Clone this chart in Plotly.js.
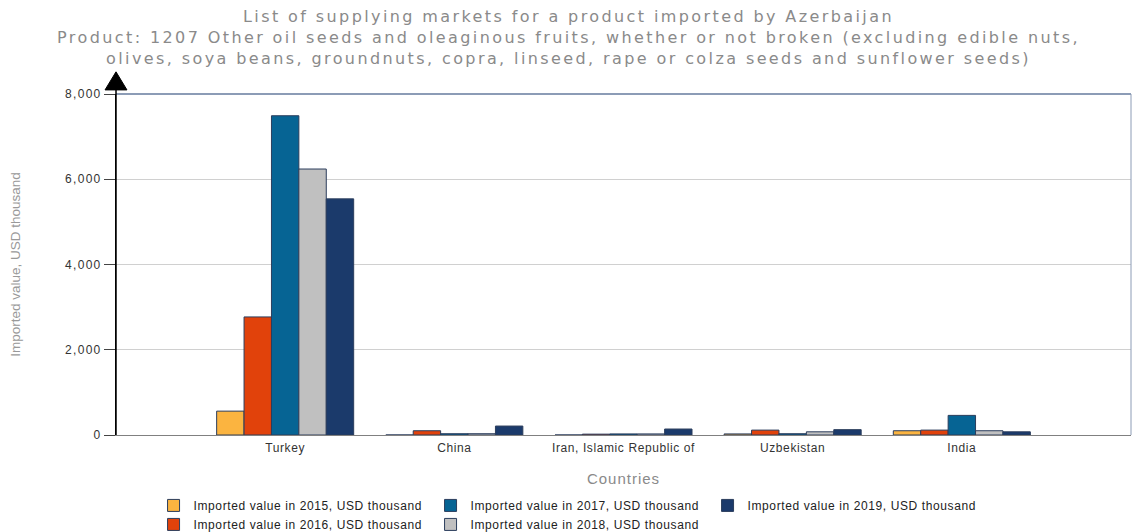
<!DOCTYPE html>
<html>
<head>
<meta charset="utf-8">
<script src="https://cdn.plot.ly/plotly-3.0.1.min.js"></script>
<style>
html,body{margin:0;padding:0;background:#fff;}
#chart{width:1137px;height:532px;}
#chart .gtitle{letter-spacing:2.4px;}
#chart .xtick text{letter-spacing:0.6px;}
#chart .ytick text{letter-spacing:1.3px;}
#chart .legendtext{letter-spacing:0.6px;}
#chart .xtitle{letter-spacing:1px;}
</style>
</head>
<body>
<div id="chart"></div>
<script>
const countries = ["Turkey", "China", "Iran, Islamic Republic of", "Uzbekistan", "India"];
const years = ["2015", "2016", "2017", "2018", "2019"];
const v2015 = [560, 0, 0, 25, 100];
const v2016 = [2770, 100, 20, 115, 115];
const v2017 = [7490, 30, 25, 30, 460];
const v2018 = [6240, 30, 25, 75, 100];
const v2019 = [5540, 210, 140, 125, 75];
const seriesValues = [v2015, v2016, v2017, v2018, v2019];
const colors = ["#fbb440", "#e1420b", "#066494", "#c0c0c0", "#1b3a6b"];
const legendRanks = [1, 4, 2, 5, 3];
const yTicks = [0, 2000, 4000, 6000, 8000];
const yTickText = ["0", "2,000", "4,000", "6,000", "8,000"];

const traces = years.map((y, i) => ({
  type: "bar",
  name: "Imported value in " + y + ", USD thousand",
  x: countries,
  y: seriesValues[i],
  marker: {color: colors[i], line: {color: "#2b3d5c", width: 1}},
  legendrank: legendRanks[i],
  hoverinfo: "x+y+name"
}));

const layout = {
  width: 1137, height: 532,
  margin: {l: 116, r: 6, t: 94, b: 97, autoexpand: false},
  paper_bgcolor: "#fff", plot_bgcolor: "#fff",
  font: {family: "Liberation Sans, Arial, sans-serif", color: "#333"},
  title: {
    text: "List of supplying markets for a product imported by Azerbaijan<br>Product: 1207 Other oil seeds and oleaginous fruits, whether or not broken (excluding edible nuts,<br>olives, soya beans, groundnuts, copra, linseed, rape or colza seeds and sunflower seeds)",
    font: {family: "DejaVu Sans, Verdana, sans-serif", size: 16, color: "#8a8a8a"},
    x: 0.5, xanchor: "center", y: 0.958, yanchor: "top", yref: "container"
  },
  barmode: "group",
  bargap: 0.19,
  bargroupgap: 0,
  xaxis: {
    type: "category",
    range: [-1, 5],
    showgrid: false,
    showline: true, linecolor: "#808080", linewidth: 1,
    ticks: "", tickfont: {size: 12, color: "#333"},
    ticklabelstandoff: 2,
    title: {text: "Countries", font: {size: 15, color: "#8a8a8a"}, standoff: 19},
    fixedrange: true, zeroline: false
  },
  yaxis: {
    range: [0, 8000],
    tickvals: yTicks, ticktext: yTickText,
    showgrid: true, gridcolor: "#d0d0d0", gridwidth: 1,
    showline: true, linecolor: "#000", linewidth: 1,
    ticks: "outside", ticklen: 11, tickcolor: "#444",
    tickfont: {size: 12, color: "#333"},
    title: {text: "Imported value, USD thousand", font: {size: 13.5, color: "#999"}, standoff: 47},
    zeroline: false, fixedrange: true
  },
  showlegend: true,
  legend: {
    orientation: "h",
    x: 0.037, xanchor: "left", xref: "paper",
    y: -0.164, yanchor: "top", yref: "paper",
    entrywidth: 232,
    font: {size: 12, color: "#222"},
    tracegroupgap: 0,
    itemwidth: 30
  },
  shapes: [
    {type: "line", xref: "paper", yref: "paper", x0: 0, x1: 1, y0: 1, y1: 1, line: {color: "#8c9cb6", width: 2}, layer: "above"},
    {type: "line", xref: "paper", yref: "paper", x0: 1, x1: 1, y0: 0, y1: 1, line: {color: "#8c9cb6", width: 1}, layer: "above"},
    {type: "line", xref: "paper", yref: "paper", x0: 0, x1: 0, y0: 0, y1: 1.02, line: {color: "#000", width: 1.5}, layer: "above"},
    {type: "path", xref: "paper", yref: "paper",
     path: "M -0.0108 1.012 L 0.0108 1.012 L 0 1.065 Z",
     fillcolor: "#000", line: {color: "#000", width: 1}, layer: "above"}
  ]
};

Plotly.newPlot("chart", traces, layout, {displayModeBar: false, staticPlot: true});
</script>
</body>
</html>
